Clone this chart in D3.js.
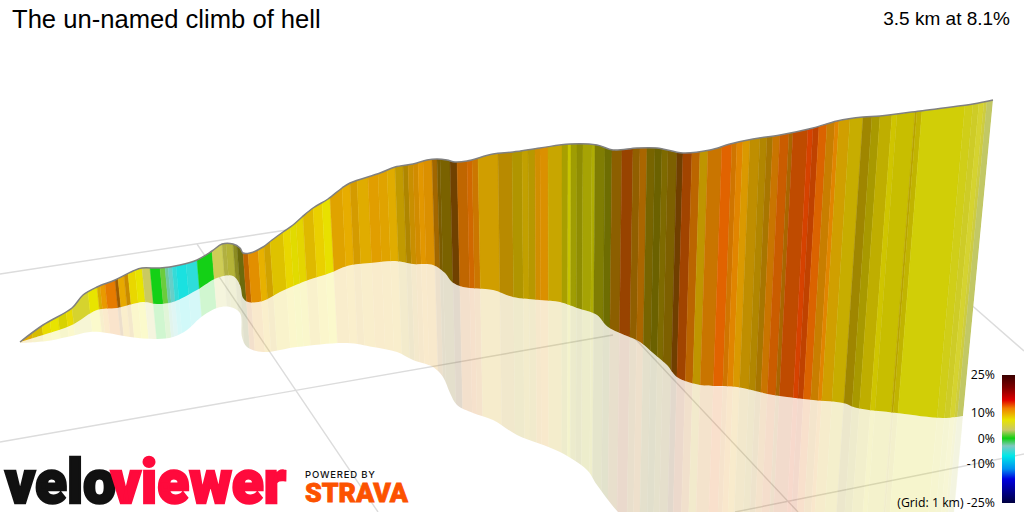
<!DOCTYPE html>
<html><head><meta charset="utf-8">
<script src="https://cdn.jsdelivr.net/npm/d3@7/dist/d3.min.js"></script>
<style>html,body{margin:0;padding:0;background:#fff;overflow:hidden}svg{display:block}</style>
</head><body><svg id="c" width="1024" height="512"></svg>
<script>
const titleText = "The un-named climb of hell";
const summaryText = "3.5 km at 8.1%";
const gridNote = "(Grid: 1 km) ";
const legendTicks = [25, 10, 0, -10, -25];
const gradeStops = [25, 20, 15.2, 12, 7.5, 3.5, 0.3, -2.7, -6.6, -11.7, -15.6, -25];
const gradeColours = ["#3a0000","#800000","#e00000","#f08000","#e8e400","#c8c868","#10d010","#80c8c0","#00e8e8","#0090f0","#0000e0","#000040"];

const ridgeRoute = [0,23,52,63,77,95,113,122,140,160,177,192,202,213,220,223,230,243,252,263,273,282,293,308,322,330,360,375,393,407,417,427,435,447,473,493,520,550,577,593,617,637,663,690,710,733,760,793,817,843,860,900,953,973];
const ridgeElev = [170,187,204,217,225,232,241,244,244,247,252,261,268,268,264,259,259,265,272,280,287,295,304,313,324,329,339,345,348,352,353,352,350,351,358,360,364,368,367,362,364,364,359,362,368,373,377,384,391,395,396,401,408,412];
const floorRoute = [0,23,52,77,97,123,137,153,177,197,213,220,223,228,243,260,283,310,327,350,375,393,413,425,432,443,473,493,520,540,557,577,588,620,633,647,657,680,717,753,793,823,837,877,923,943];
const floorElev = [170,177,187,202,204,210,208,210,222,234,236,227,214,210,211,220,230,239,246,249,251,248,247,239,230,225,222,215,212,210,204,197,185,170,159,147,135,127,125,117,112,109,104,99,94,96];
const mirrorRoute = [0,27,47,70,87,110,137,153,167,180,197,210,220,222,227,243,277,327,353,377,393,413,423,430,437,453,473,497,540,567,577,598,620,935];
const mirrorElev = [169,171,175,180,179,175,173,175,182,194,204,205,199,175,165,160,165,169,165,160,152,145,135,119,107,99,92,77,60,42,27,0,-20,-20];

const bandEnds = [12,22,30,38,46,52,68,77,80,85,95,98,104,108,115,122,130,140,145,148,152,156,166,177,192,202,206,213,217,223,228,238,244,250,263,270,276,283,293,302,310,322,330,337,348,358,367,375,383,388,393,398,403,412,417,420,430,437,447,452,458,478,492,502,508,515,520,528,542,548,551,557,563,572,575,585,592,602,613,620,627,635,642,648,657,663,672,680,688,702,712,717,723,730,740,747,753,760,769,773,788,793,799,807,815,819,830,843,852,860,872,877,895,897,902,945,953,959,964,967,973];
const bandGrades = [9.7,8.6,7.9,7.5,7.6,7.9,5.7,7.5,9.3,10.7,
12,11.6,10,10.4,8.1,7.5,3.8,0.2,1.9,-2.2,
-3.5,-5,-5.8,-5.2,0.2,4.2,4.5,5,5.5,6.5,
12,11,9.6,9.5,8.6,8.1,7.6,8,9,8.4,
7.7,10,9.8,10,9.6,10.3,10,9.6,9.3,9.6,
10.2,10.6,10.6,10.7,10.9,9.8,9.3,11.5,12,12.2,
11.5,9.7,9.8,8.8,9,9,10.5,10.7,9,7.8,
7.5,7.3,7.3,7.3,7.3,7.3,7.3,10.5,12.6,10.8,
11.3,8.9,8.3,8.9,9.6,11.7,12.7,11.9,9.5,11.5,
12.6,11.7,11.4,10.3,9.9,9.7,10.3,11.5,12.5,11.3,
12.9,13.4,13.2,12.5,11,11.4,9.6,8.6,8.9,8.2,
8.2,7.8,7.8,8.4,8,7.2,6.5,5.9,5.6,5,3.4];
const bandShades = [.95,.92,1,1,.93,1,.98,1,.92,.98,
.96,.67,.98,.85,1,1,1,1,1,1,
1,1,1,1,1,1,.85,.85,.65,.48,
.8,.95,.98,.88,.95,1,.97,.98,.95,1,
1,.95,.98,.9,.95,.95,.95,.95,.82,.74,
.85,.88,.95,.92,.68,.52,.52,.47,.8,.87,
.85,.88,.78,.75,.82,.78,.88,.92,.85,.72,
.86,.69,.62,.72,.76,.55,.48,.59,.64,.61,
.71,.51,.46,.54,.53,.47,.68,.78,.81,.84,
.95,.87,.94,.92,.81,.75,.71,.84,.85,.71,
.81,.92,.82,.92,.84,.94,.88,.85,.68,.72,
.82,.89,.86,.79,.83,.91,.93,.94,.98,.97,1];

const gridFromRoute = [-20,177,-20,607,940,715];
const gridFromElev = [238,268,70,182,217,0];
const gridToRoute = [280,358,593,778,1004,1004];
const gridToElev = [284,0,177,0,161,58];

const svg = d3.select("#c");
const x = d3.scaleLinear().domain([0,973]).range([20,993]);
const y = d3.scaleLinear().domain([0,512]).range([512,0]);
const gradeColour = d3.scaleLinear().domain(gradeStops).range(gradeColours).interpolate(d3.interpolateRgb);
const ridgeAt = d3.scaleLinear().domain(ridgeRoute).range(ridgeElev);
const vanishX = 560, vanishY = 4650;
// Horizontal position of a point on the vertical through `route`, converging to the vanishing point
function wallX(route, py){
  const px = x(route), ry = y(ridgeAt(route));
  return px + (vanishX - px) * (py - ry) / (vanishY - ry);
}
const line = d3.line().x(d=>d[0]).y(d=>d[1]).curve(d3.curveCatmullRom.alpha(0.5));
const ridgePts = d3.zip(ridgeRoute, ridgeElev).map(d=>[x(d[0]),y(d[1])]);
const floorPts = d3.zip(floorRoute, floorElev).map(d=>[x(d[0]),y(d[1])]);
const mirrorPts = d3.zip(mirrorRoute, mirrorElev).map(d=>[x(d[0]),y(d[1])]);
const join = (a,b)=> line(a) + line(b.slice().reverse()).replace("M","L") + "Z";

const defs = svg.append("defs");
defs.append("clipPath").attr("id","wallClip").append("path").attr("d", join(ridgePts, floorPts));
defs.append("clipPath").attr("id","mirrorClip").append("path").attr("d", join(floorPts, mirrorPts));
const lg = defs.append("linearGradient").attr("id","legendGrad").attr("x1",0).attr("x2",0).attr("y1",0).attr("y2",1);
const legendY = d3.scaleLinear().domain([25,-25]).range([375,503]);
gradeStops.forEach((g,i)=>lg.append("stop").attr("offset",(25-g)/50).attr("stop-color",gradeColours[i]));

// grid
svg.append("g").selectAll("line").data(d3.range(gridFromRoute.length)).join("line")
  .attr("x1",i=>x(gridFromRoute[i])).attr("y1",i=>y(gridFromElev[i]))
  .attr("x2",i=>x(gridToRoute[i])).attr("y2",i=>y(gridToElev[i]))
  .attr("stroke","#dcdcdc").attr("stroke-width",1.4);

const bands = bandEnds.map((end,i)=>({start:i?bandEnds[i-1]:0,end,grade:bandGrades[i],shade:bandShades[i]}));
const bandPath = d => {
  const a=-40,b=600;
  return `M${wallX(d.start,a)},${a}L${wallX(d.end,a)},${a}L${wallX(d.end,b)},${b}L${wallX(d.start,b)},${b}Z`;
};
const bandFill = d => { const c=d3.rgb(gradeColour(d.grade)); return d3.rgb(c.r*d.shade,c.g*d.shade,c.b*d.shade).formatHex(); };

// reflection
svg.append("g").attr("clip-path","url(#mirrorClip)").attr("opacity",0.2)
  .selectAll("path").data(bands).join("path").attr("d",bandPath).attr("fill",bandFill)
  .attr("stroke",bandFill).attr("stroke-width",0.4);
// wall
svg.append("g").attr("clip-path","url(#wallClip)")
  .selectAll("path").data(bands).join("path").attr("d",bandPath).attr("fill",bandFill)
  .attr("stroke",bandFill).attr("stroke-width",0.4);
// ridge line
svg.append("path").attr("d",line(ridgePts)).attr("fill","none").attr("stroke","#808080").attr("stroke-width",1.5);

// titles
svg.append("text").text(titleText).attr("x",12).attr("y",28).attr("font-family","Liberation Sans, Arial, sans-serif").attr("font-size",25.6).attr("fill","#000");
svg.append("text").text(summaryText).attr("x",1010).attr("y",25).attr("text-anchor","end").attr("font-family","Liberation Sans, Arial, sans-serif").attr("font-size",19).attr("fill","#000");

// legend
svg.append("rect").attr("x",1002).attr("y",legendY(25)).attr("width",13).attr("height",legendY(-25)-legendY(25)).attr("fill","url(#legendGrad)");
svg.append("g").selectAll("text").data(legendTicks).join("text")
  .attr("x",995).attr("y",d=>legendY(d)+3.5).attr("text-anchor","end")
  .attr("font-family","Open Sans, sans-serif").attr("font-size",12.3).attr("fill","#000")
  .text(d=>(d===-25?gridNote:"")+d+"%");

// logo
const logo = svg.append("text").attr("x",5).attr("y",503).attr("font-family","Roboto, Lato, sans-serif").attr("font-weight",900)
  .attr("font-size",62).attr("textLength",281).attr("lengthAdjust","spacingAndGlyphs").attr("stroke-width",2.4);
logo.append("tspan").text("velo").attr("fill","#111").attr("stroke","#111");
logo.append("tspan").text("viewer").attr("dx",-5).attr("fill","#ff0a3c").attr("stroke","#ff0a3c");
svg.append("text").text("POWERED BY").attr("x",305).attr("y",478).attr("font-family","Inter, sans-serif").attr("font-weight",500).attr("font-size",9.5).attr("letter-spacing",0.8).attr("fill","#111");
svg.append("text").text("STRAVA").attr("x",305).attr("y",502).attr("font-family","Roboto, sans-serif").attr("font-weight",900).attr("font-size",26).attr("textLength",103).attr("lengthAdjust","spacingAndGlyphs").attr("fill","#fc5200").attr("stroke","#fc5200").attr("stroke-width",0.8);
</script></body></html>
